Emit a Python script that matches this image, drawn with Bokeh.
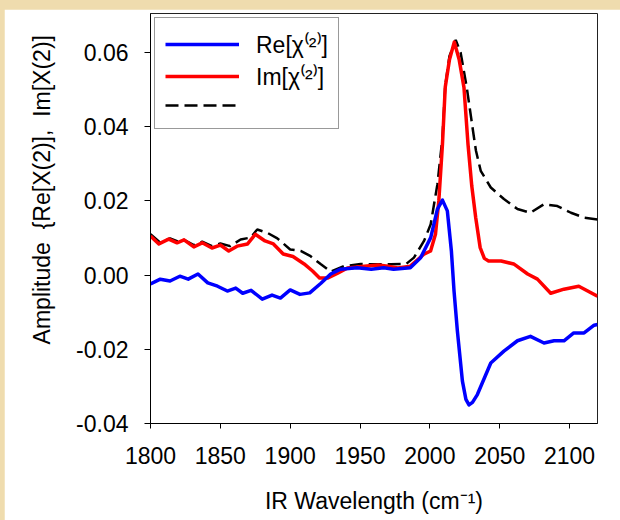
from bokeh.plotting import figure
from bokeh.models import Legend, LegendItem, FixedTicker, PrintfTickFormatter, Range1d
from bokeh.embed import file_html
from bokeh.resources import INLINE

# ---- data ----
x_ticks = [1800, 1850, 1900, 1950, 2000, 2050, 2100]
y_ticks = [-0.04, -0.02, 0.00, 0.02, 0.04, 0.06]

re_x = [1800, 1807, 1814, 1821, 1827, 1834, 1841, 1848, 1855, 1861, 1866, 1872, 1880, 1887,
        1893, 1900, 1907, 1914, 1922, 1929, 1936, 1948, 1958, 1967, 1974, 1986, 1993.4, 2000.6,
        2005.4, 2009, 2012.5, 2015.4, 2017.3, 2019.7, 2023.3, 2025.8, 2028, 2030.5, 2034, 2043.6,
        2053, 2062.7, 2072, 2081.7, 2088.9, 2096, 2103, 2110.4, 2117.6, 2120]
re_y = [-0.0024, -0.0011, -0.0016, -0.0003, -0.0011, 0.0003, -0.0021, -0.0030, -0.0043, -0.0035,
        -0.0049, -0.0041, -0.0065, -0.0054, -0.0062, -0.0040, -0.0052, -0.0048, -0.0022, 0.0003,
        0.0016, 0.0020, 0.0016, 0.0020, 0.0016, 0.0020, 0.0047, 0.0101, 0.0178, 0.0202, 0.0173,
        0.0065, -0.0043, -0.0151, -0.0286, -0.0335, -0.0350, -0.0343, -0.0322, -0.0237, -0.0205,
        -0.0177, -0.0165, -0.0183, -0.0177, -0.0177, -0.0156, -0.0156, -0.0135, -0.0133]

im_x = [1800, 1806, 1813, 1819, 1824, 1831, 1837, 1844, 1850, 1856, 1862, 1869.5, 1875, 1882,
        1888, 1895, 1902, 1910, 1916, 1921, 1927, 1934, 1941, 1953, 1963, 1970, 1977, 1986,
        1995.7, 2000.5, 2004, 2006.4, 2009, 2011, 2014, 2017.5, 2021, 2024.4, 2027.3, 2030,
        2032.8, 2036, 2039, 2042, 2051, 2060, 2070, 2077, 2086.5, 2096, 2106.6, 2120]
im_y = [0.0105, 0.0084, 0.0097, 0.0087, 0.0095, 0.0076, 0.0087, 0.0073, 0.0081, 0.0065, 0.0078,
        0.0084, 0.0110, 0.0092, 0.0084, 0.0057, 0.0050, 0.0030, 0.0011, -0.0008, -0.0008, 0.0005,
        0.0019, 0.0024, 0.0027, 0.0024, 0.0019, 0.0024, 0.0056, 0.0065, 0.0110, 0.0200, 0.0352,
        0.0506, 0.0580, 0.0628, 0.0580, 0.0506, 0.0352, 0.0240, 0.0155, 0.0074, 0.0045, 0.0038,
        0.0038, 0.0030, 0.0003, -0.0011, -0.0049, -0.0038, -0.0030, -0.0057]

sum_x = [1800, 1807, 1814, 1820, 1824, 1831, 1837, 1844, 1850, 1857, 1864.5, 1871.6, 1876.4,
         1883.6, 1890.8, 1900, 1907.5, 1914.6, 1922, 1929, 1938.5, 1950.4, 1962.4, 1972, 1983,
         1988.6, 1995.8, 2000.6, 2005.4, 2009, 2011, 2014, 2018.5, 2022, 2026.4, 2031.6, 2033,
         2036.4, 2043.6, 2053, 2062.7, 2072, 2081.7, 2091.3, 2101, 2110.4, 2120]
sum_y = [0.0110, 0.0087, 0.0099, 0.0090, 0.0095, 0.0081, 0.0090, 0.0078, 0.0085, 0.0078, 0.0096,
         0.0101, 0.0123, 0.0114, 0.0099, 0.0069, 0.0065, 0.0051, 0.0029, 0.0009, 0.0024, 0.0030,
         0.0029, 0.0029, 0.0030, 0.0047, 0.0092, 0.0137, 0.0245, 0.0370, 0.0510, 0.0590, 0.0634,
         0.0600, 0.0506, 0.0370, 0.0335, 0.0281, 0.0236, 0.0205, 0.0178, 0.0168, 0.0191, 0.0186,
         0.0168, 0.0155, 0.0150]

legend_labels = ["Re[\u03c7\u207d\u00b2\u207e]", "Im[\u03c7\u207d\u00b2\u207e]", " "]
x_label = "IR Wavelength (cm\u207b\u00b9)"
y_label = "\u00a0" * 9 + "Amplitude\u00a0 {Re[X(2)],\u00a0 Im[X(2)]"

FONT = "Liberation Sans"

p = figure(width=616, height=511, output_backend="svg", toolbar_location=None,
           x_range=Range1d(1800, 2120), y_range=Range1d(-0.04, 0.0705),
           min_border_left=146, min_border_right=23, min_border_top=4, min_border_bottom=97)
p.grid.visible = False
p.background_fill_color = "white"
p.border_fill_color = "white"
p.outline_line_color = "#222222"
p.outline_line_width = 1

for ax in (p.xaxis[0], p.yaxis[0]):
    ax.axis_line_color = "black"
    ax.major_tick_line_color = "black"
    ax.major_tick_in = 0
    ax.minor_tick_in = 0
    ax.minor_tick_out = 0
    ax.major_label_text_font = FONT
    ax.major_label_text_color = "black"
    ax.major_label_text_font_size = "23px"
    ax.axis_label_text_font = FONT
    ax.axis_label_text_font_style = "normal"
    ax.axis_label_text_color = "black"

p.xaxis.ticker = FixedTicker(ticks=x_ticks)
p.xaxis.major_tick_out = 5
p.xaxis.major_label_standoff = 18
p.xaxis.axis_label = x_label
p.xaxis.axis_label_text_font_size = "23px"
p.xaxis.axis_label_standoff = 21

p.yaxis.ticker = FixedTicker(ticks=y_ticks)
p.yaxis.formatter = PrintfTickFormatter(format="%.2f")
p.yaxis.major_tick_out = 6
p.yaxis.major_label_standoff = 16
p.yaxis.axis_label = y_label
p.yaxis.axis_label_text_font_size = "23px"
p.yaxis.axis_label_standoff = 18

r_sum = p.line(sum_x, sum_y, line_color="black", line_width=2.5, line_dash="13 6")
r_im = p.line(im_x, im_y, line_color="#ff0000", line_width=3.5, line_join="round")
r_re = p.line(re_x, re_y, line_color="#0000ff", line_width=3.5, line_join="round")

legend = Legend(items=[LegendItem(label=legend_labels[0], renderers=[r_re]),
                       LegendItem(label=legend_labels[1], renderers=[r_im]),
                       LegendItem(label=legend_labels[2], renderers=[r_sum])],
                location="top_left", margin=4, padding=10, spacing=0,
                glyph_width=74, glyph_height=26, label_height=26, label_standoff=17,
                label_text_font=FONT, label_text_font_size="23px", label_text_color="black",
                border_line_color="#333333", border_line_width=1.5,
                background_fill_color="white", background_fill_alpha=1.0)
p.add_layout(legend)

html = file_html(p, INLINE)
html = html.replace("<head>", "<head><style>"
                    "html{background:#efdcae !important;}"
                    "body{padding:9px 0 0 4px !important;margin:0 !important;"
                    "background:transparent !important;}</style>", 1)
open("out.html", "w").write(html)
